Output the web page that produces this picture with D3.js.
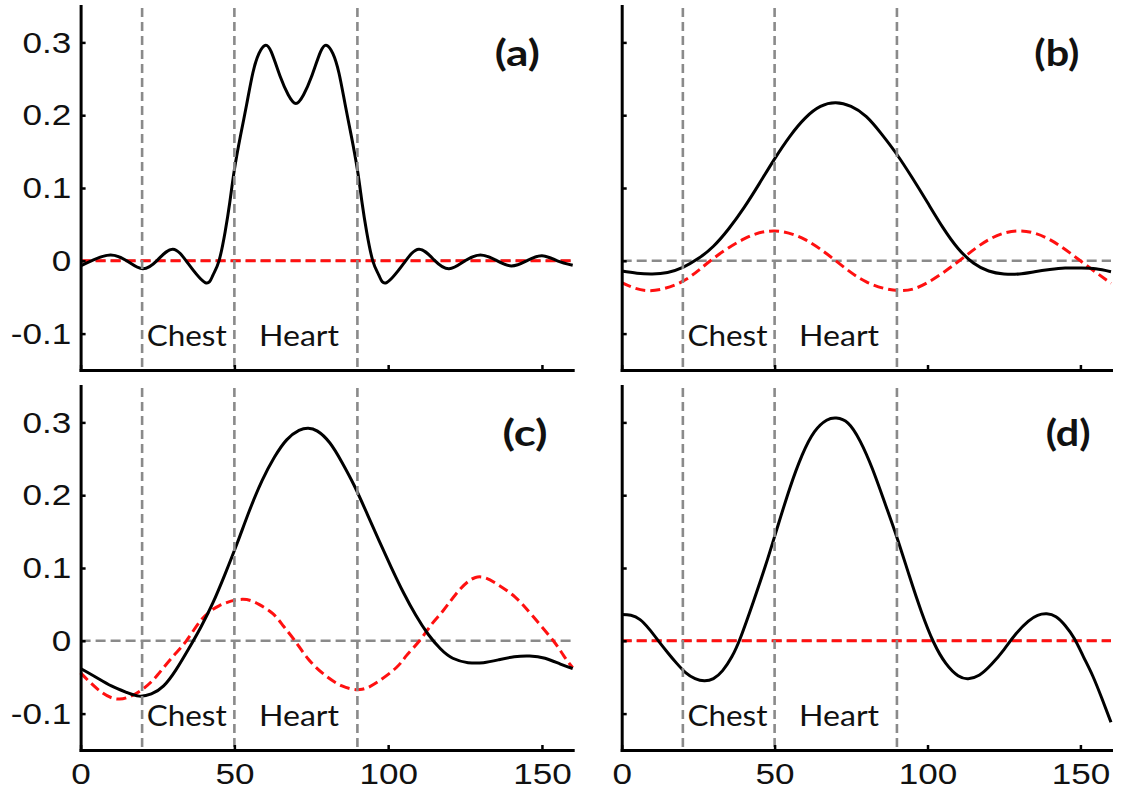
<!DOCTYPE html>
<html><head><meta charset="utf-8">
<script src="https://cdn.jsdelivr.net/npm/d3@7"></script>
<style>body{margin:0;background:#fff} svg{display:block}</style>
</head><body>
<svg id="chart" width="1126" height="796"></svg>
<script>
// ---- data ----
const xTicks = [0, 50, 100, 150];
const yTicks = [-0.1, 0, 0.1, 0.2, 0.3];
const regionBounds = [20, 50, 90];
const regionLabels = ["Chest", "Heart"];
const regionLabelX = [21.5, 58];
const panelLabels = ["(a)", "(b)", "(c)", "(d)"];

// (a)
const aBlackX = [0, 4, 9.7, 15, 20.2, 25, 30, 35, 40.5, 43, 45, 47, 48.5, 50, 52, 54, 56, 58, 60, 62, 65, 67.5, 70, 72.5, 75, 78, 80, 82, 84, 86, 88, 90, 91.5, 93, 95, 97, 99.5, 105, 110, 115, 119.8, 125, 130, 135, 140, 145, 150, 155, 160];
const aBlackY = [-0.007, 0.001, 0.008, 0.000, -0.011, 0.001, 0.016, -0.004, -0.030, -0.020, 0.000, 0.040, 0.080, 0.125, 0.172, 0.215, 0.258, 0.285, 0.296, 0.287, 0.252, 0.228, 0.216, 0.228, 0.252, 0.287, 0.296, 0.285, 0.258, 0.215, 0.172, 0.125, 0.080, 0.040, 0.000, -0.020, -0.030, -0.004, 0.016, 0.001, -0.011, 0.000, 0.008, 0.001, -0.007, 0.000, 0.007, 0.000, -0.006];
const aRedX = [0, 160];
const aRedY = [0, 0];

// (b)
const bBlackX = [0, 5, 10, 15, 20, 25, 30, 35, 40, 45, 50, 55, 60, 65, 70, 75, 80, 85, 90, 95, 100, 105, 110, 115, 120, 125, 130, 135, 140, 145, 150, 155, 160];
const bBlackY = [-0.014, -0.017, -0.018, -0.016, -0.009, 0.003, 0.020, 0.044, 0.073, 0.106, 0.140, 0.171, 0.196, 0.212, 0.217, 0.212, 0.198, 0.174, 0.146, 0.114, 0.080, 0.046, 0.017, -0.003, -0.014, -0.018, -0.018, -0.015, -0.012, -0.010, -0.010, -0.011, -0.015];
const bRedX = [0, 9, 20, 29, 40, 50, 60, 70, 80, 91, 100, 110.4, 120, 130, 140, 150, 160];
const bRedY = [-0.030, -0.041, -0.028, 0.000, 0.030, 0.041, 0.029, 0.000, -0.029, -0.041, -0.030, 0.000, 0.029, 0.041, 0.029, 0.000, -0.031];

// (c)
const cBlackX = [0, 5, 10, 15, 19, 23, 27, 31, 35, 39, 43, 47, 51, 55, 59, 63, 67, 71, 74, 77, 81, 85, 89, 93, 97, 101, 105, 109, 113, 117, 121, 126, 131, 136, 141, 146, 151, 156, 160];
const cBlackY = [-0.038, -0.050, -0.062, -0.071, -0.076, -0.073, -0.062, -0.040, -0.012, 0.018, 0.052, 0.092, 0.135, 0.180, 0.220, 0.252, 0.276, 0.289, 0.292, 0.288, 0.272, 0.245, 0.213, 0.176, 0.138, 0.101, 0.066, 0.035, 0.009, -0.011, -0.024, -0.030, -0.030, -0.026, -0.022, -0.021, -0.024, -0.032, -0.038];
const cRedX = [0, 6, 12.7, 20, 25, 29.7, 34.4, 39.1, 45, 52.6, 58, 62.6, 66, 69.7, 74, 79.1, 85, 90.8, 96, 102.6, 106, 110.2, 114, 117.8, 122, 128.4, 135, 141.3, 147, 153.7, 157, 160];
const cRedY = [-0.044, -0.068, -0.080, -0.067, -0.047, -0.023, 0.000, 0.028, 0.048, 0.057, 0.050, 0.037, 0.020, 0.000, -0.025, -0.046, -0.062, -0.067, -0.058, -0.037, -0.020, 0.000, 0.022, 0.041, 0.064, 0.087, 0.079, 0.060, 0.034, 0.000, -0.020, -0.037];

// (d)
const dBlackX = [0, 3, 6, 9, 12, 15, 18, 21, 24, 27, 30, 33, 36, 39, 43, 47, 51, 55, 59, 63, 67, 70.2, 74, 78, 82, 86, 90, 94, 98, 102, 106, 110, 113.3, 117, 121, 125, 129, 133, 136, 139, 142, 145, 148, 151, 154, 157, 160];
const dBlackY = [0.036, 0.035, 0.029, 0.016, 0.000, -0.016, -0.031, -0.044, -0.052, -0.055, -0.052, -0.041, -0.022, 0.006, 0.053, 0.103, 0.157, 0.210, 0.255, 0.287, 0.303, 0.306, 0.299, 0.274, 0.236, 0.190, 0.142, 0.090, 0.040, -0.002, -0.031, -0.048, -0.052, -0.047, -0.032, -0.012, 0.010, 0.027, 0.035, 0.037, 0.033, 0.021, 0.003, -0.022, -0.048, -0.079, -0.112];
const dRedX = [0, 160];
const dRedY = [0, 0];

// ---- layout ----
const xDomain = [0, 160];
const yDomain = [-0.15, 0.35];
const panels = [
  {label: panelLabels[0], left: 80.6, right: 572.7, top: 6, bottom: 370, yLab: true, xLab: false, labX: 142, bx: aBlackX, by: aBlackY, rx: aRedX, ry: aRedY},
  {label: panelLabels[1], left: 621.7, right: 1111, top: 6, bottom: 370, yLab: false, xLab: false, labX: 142.3, bx: bBlackX, by: bBlackY, rx: bRedX, ry: bRedY},
  {label: panelLabels[2], left: 80.6, right: 572.7, top: 386, bottom: 750, yLab: true, xLab: true, labX: 144.5, bx: cBlackX, by: cBlackY, rx: cRedX, ry: cRedY},
  {label: panelLabels[3], left: 621.7, right: 1111, top: 386, bottom: 750, yLab: false, xLab: true, labX: 146, bx: dBlackX, by: dBlackY, rx: dRedX, ry: dRedY}
];

const svg = d3.select("#chart");
const GRAY = "#8a8a8a", RED = "#ff1010";
const tickFont = "'Liberation Sans', Arial, sans-serif";

panels.forEach(p => {
  const x = d3.scaleLinear().domain(xDomain).range([p.left, p.right]);
  const y = d3.scaleLinear().domain(yDomain).range([p.bottom, p.top]);
  const g = svg.append("g");

  // gray zero line
  g.append("line")
    .attr("x1", x(xDomain[0])).attr("x2", x(xDomain[1]))
    .attr("y1", y(0)).attr("y2", y(0))
    .attr("stroke", GRAY).attr("stroke-width", 2.6).attr("stroke-dasharray", "10,5");

  const line = d3.line().x(d => x(d[0])).y(d => y(d[1])).curve(d3.curveNatural);

  // red dashed series
  g.append("path")
    .datum(d3.zip(p.rx, p.ry))
    .attr("d", line)
    .attr("fill", "none").attr("stroke", RED).attr("stroke-width", 3)
    .attr("stroke-dasharray", "10,5");

  // black solid series
  g.append("path")
    .datum(d3.zip(p.bx, p.by))
    .attr("d", line)
    .attr("fill", "none").attr("stroke", "#000").attr("stroke-width", 3)
    .attr("stroke-linejoin", "round");

  // vertical region lines
  g.selectAll("line.reg").data(regionBounds).enter().append("line")
    .attr("class", "reg")
    .attr("x1", d => x(d)).attr("x2", d => x(d))
    .attr("y1", y(yDomain[1]) + 2).attr("y2", y(yDomain[0]))
    .attr("stroke", GRAY).attr("stroke-width", 2.6).attr("stroke-dasharray", "9,5");

  // region labels
  g.selectAll("text.reg").data(regionLabels).enter().append("text")
    .attr("class", "reg")
    .attr("x", (d, i) => x(regionLabelX[i]))
    .attr("y", y(-0.117))
    .attr("font-family", "Lato, 'Open Sans', sans-serif")
    .attr("font-size", 28)
    .attr("fill", "#111")
    .attr("textLength", 80)
    .attr("lengthAdjust", "spacingAndGlyphs")
    .text(d => d);

  // panel label
  g.append("text")
    .attr("x", x(p.labX)).attr("y", y(0.268))
    .attr("text-anchor", "middle")
    .attr("font-family", "Lato, 'Open Sans', sans-serif")
    .attr("font-weight", 700)
    .attr("font-size", 36)
    .attr("fill", "#111")
    .attr("textLength", 45)
    .attr("lengthAdjust", "spacingAndGlyphs")
    .text(p.label);

  // axes
  const fmt = v => v === 0 ? "0" : String(+v.toFixed(1));
  const xAxis = g.append("g").attr("transform", `translate(0,${p.bottom})`)
    .call(d3.axisBottom(x).tickValues(xTicks).tickSize(-5).tickSizeOuter(0).tickPadding(13)
      .tickFormat(p.xLab ? (d => String(d)) : (() => "")));
  const yAxis = g.append("g").attr("transform", `translate(${p.left},0)`)
    .call(d3.axisLeft(y).tickValues(yTicks).tickSize(-5).tickSizeOuter(0).tickPadding(8)
      .tickFormat(p.yLab ? fmt : (() => "")));

  [xAxis, yAxis].forEach(a => {
    a.select(".domain").attr("stroke", "#000").attr("stroke-width", 3).attr("stroke-linecap", "square");
    a.selectAll(".tick line").attr("stroke", "#000").attr("stroke-width", 2.5);
    a.selectAll(".tick text")
      .attr("font-family", tickFont).attr("font-size", 30).attr("fill", "#111")
      .attr("transform", "scale(1.17,1)");
  });
});
</script>
</body></html>
